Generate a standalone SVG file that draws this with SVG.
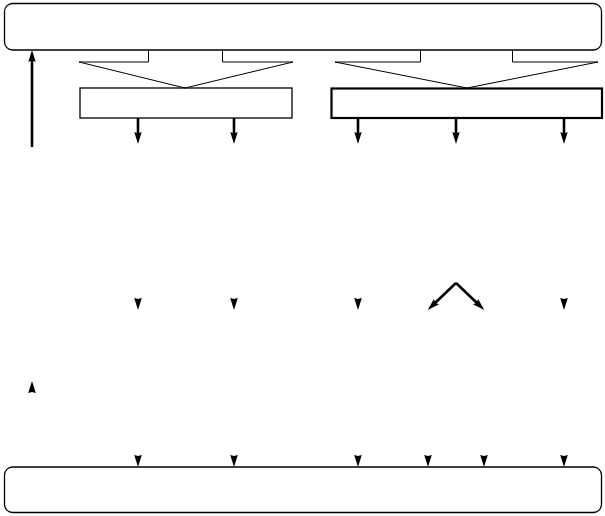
<svg xmlns="http://www.w3.org/2000/svg" xmlns:xlink="http://www.w3.org/1999/xlink" width="605" height="516" viewBox="0 0 605 516">
<style>
.box{fill:#fff;stroke:#000;stroke-width:1.3}
.thick{fill:#fff;stroke:#000;stroke-width:2.2}
.tab{fill:none;stroke:#000;stroke-width:1}
.arr{fill:none;stroke:#000;stroke-width:2.6}
.head{fill:#000}
</style>
<defs>
<marker id="ah" markerUnits="userSpaceOnUse" viewBox="0 0 12 8" refX="2" refY="4" markerWidth="12" markerHeight="8" orient="auto">
<path d="M0,0.3 L12,4 L0,7.7 L1.5,4 z" fill="#000"/>
</marker>
<path id="hd" d="M0,0 L-3.8,-12 L0,-11 L3.8,-12 Z"/>
</defs>
<rect width="605" height="516" fill="#fff"/>
<g id="top-box"><rect class="box" x="4.5" y="3.5" width="597" height="46.5" rx="8"/></g>
<g id="left-box"><rect class="box" x="80" y="88" width="212" height="30"/></g>
<g id="right-box"><rect class="thick" x="331.5" y="88.5" width="270.5" height="29.5"/></g>
<g id="bottom-box"><rect class="box" x="4.5" y="467" width="597" height="45.5" rx="8"/></g>
<g id="connectors">
<polyline class="tab" points="148.5,50 148.5,62 79,62 185,88 293,62 222.5,62 222.5,50"/>
<polyline class="tab" points="420.5,50 420.5,62 335,62 467,88 598,62 512.5,62 512.5,50"/>
<line class="arr" x1="32" y1="147" x2="32" y2="60" marker-end="url(#ah)"/>
<line class="arr" x1="138" y1="118" x2="138" y2="134" marker-end="url(#ah)"/>
<line class="arr" x1="234" y1="118" x2="234" y2="134" marker-end="url(#ah)"/>
<line class="arr" x1="358" y1="118" x2="358" y2="134" marker-end="url(#ah)"/>
<line class="arr" x1="456" y1="118" x2="456" y2="134" marker-end="url(#ah)"/>
<line class="arr" x1="564" y1="118" x2="564" y2="134" marker-end="url(#ah)"/>
<line class="arr" x1="456" y1="283" x2="435" y2="303" marker-end="url(#ah)"/>
<line class="arr" x1="456" y1="283" x2="477" y2="303" marker-end="url(#ah)"/>
<g class="head">
<use xlink:href="#hd" x="138" y="310"/>
<use xlink:href="#hd" x="234" y="310"/>
<use xlink:href="#hd" x="358" y="310"/>
<use xlink:href="#hd" x="564" y="310"/>
<use xlink:href="#hd" transform="translate(32,381) rotate(180)"/>
<use xlink:href="#hd" x="138" y="467"/>
<use xlink:href="#hd" x="234" y="467"/>
<use xlink:href="#hd" x="358" y="467"/>
<use xlink:href="#hd" x="428" y="467"/>
<use xlink:href="#hd" x="484" y="467"/>
<use xlink:href="#hd" x="564" y="467"/>
</g>
</g>
</svg>
